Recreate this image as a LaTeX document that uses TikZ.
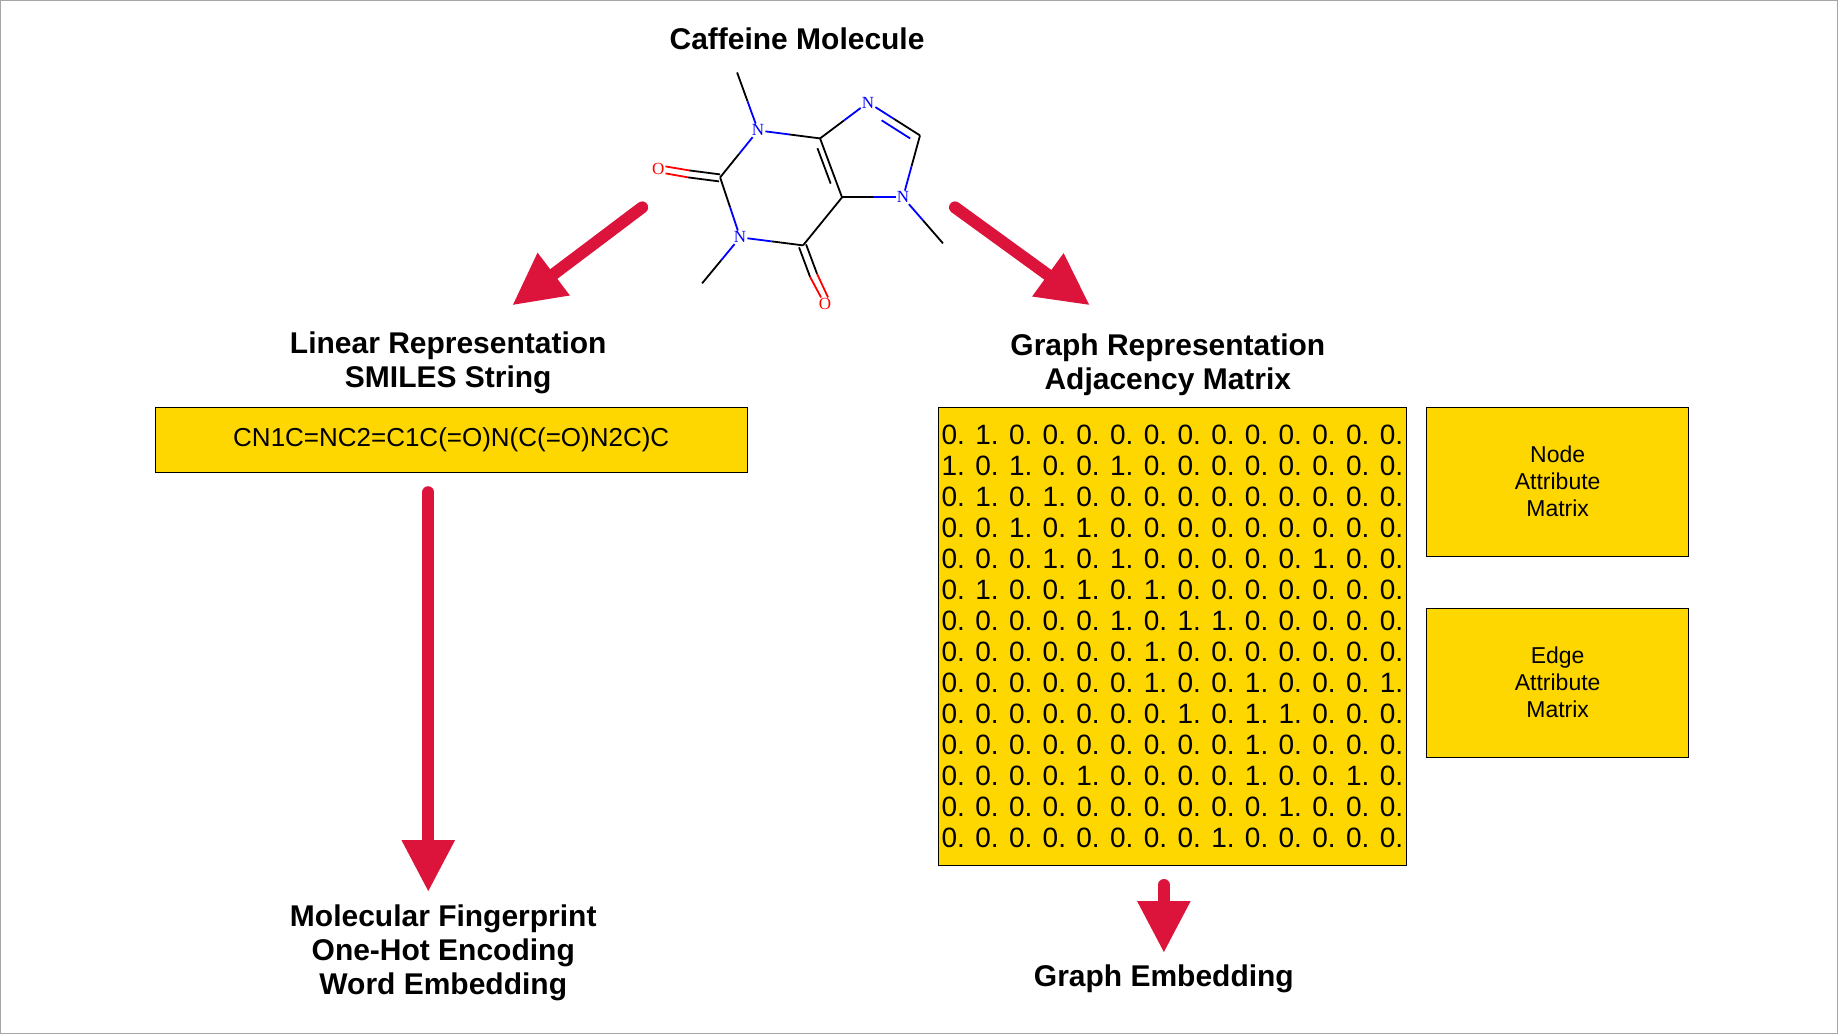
\documentclass[tikz,border=0pt]{standalone}
\usepackage{fontspec}
\setmainfont{Liberation Sans}
\newfontfamily\atomfont{Liberation Serif}
\usetikzlibrary{arrows.meta,calc}
\definecolor{goldbox}{HTML}{FFD700}
\definecolor{crimsonarrow}{HTML}{DC143C}

\tikzset{
  title/.style={font=\fontsize{30}{36}\selectfont\bfseries, align=center},
  box/.style={draw=black, fill=goldbox, line width=0.8pt},
  bigarrow/.style={crimsonarrow, line width=12pt, line cap=round,
    -{Triangle[length=52pt, width=50pt]}},
  bond/.style={line width=1.8pt},
  atom/.style={font=\atomfont\fontsize{17}{17}\selectfont, inner sep=1pt},
}

\begin{document}
\begin{tikzpicture}[x=1pt, y=-1pt]
\draw[gray!70, line width=1pt, use as bounding box] (0,0) rectangle (1838,1034);

% titles
\node[title] (caffeine) at (797,38) {Caffeine Molecule};
\node[title] (linear) at (448,363) {Linear Representation\\[-2pt]SMILES String};
\node[title] (graph) at (1168,364) {Graph Representation\\[-2pt]Adjacency Matrix};
\node[title] (fingerprint) at (443,953) {Molecular Fingerprint\\[-2pt]One-Hot Encoding\\[-2pt]Word Embedding};
\node[title] (embedding) at (1164,979) {Graph Embedding};

% boxes
\node[box, minimum width=592pt, minimum height=65pt, font=\fontsize{26}{30}\selectfont]
  (smiles) at (451,440) {CN1C=NC2=C1C(=O)N(C(=O)N2C)C};
\node[box, minimum width=465pt, minimum height=458pt, align=center,
  font=\fontsize{28}{31}\selectfont] (adj) at (1172.5,636) {%
0. 1. 0. 0. 0. 0. 0. 0. 0. 0. 0. 0. 0. 0.\\
1. 0. 1. 0. 0. 1. 0. 0. 0. 0. 0. 0. 0. 0.\\
0. 1. 0. 1. 0. 0. 0. 0. 0. 0. 0. 0. 0. 0.\\
0. 0. 1. 0. 1. 0. 0. 0. 0. 0. 0. 0. 0. 0.\\
0. 0. 0. 1. 0. 1. 0. 0. 0. 0. 0. 1. 0. 0.\\
0. 1. 0. 0. 1. 0. 1. 0. 0. 0. 0. 0. 0. 0.\\
0. 0. 0. 0. 0. 1. 0. 1. 1. 0. 0. 0. 0. 0.\\
0. 0. 0. 0. 0. 0. 1. 0. 0. 0. 0. 0. 0. 0.\\
0. 0. 0. 0. 0. 0. 1. 0. 0. 1. 0. 0. 0. 1.\\
0. 0. 0. 0. 0. 0. 0. 1. 0. 1. 1. 0. 0. 0.\\
0. 0. 0. 0. 0. 0. 0. 0. 0. 1. 0. 0. 0. 0.\\
0. 0. 0. 0. 1. 0. 0. 0. 0. 1. 0. 0. 1. 0.\\
0. 0. 0. 0. 0. 0. 0. 0. 0. 0. 1. 0. 0. 0.\\
0. 0. 0. 0. 0. 0. 0. 0. 1. 0. 0. 0. 0. 0.};
\node[box, minimum width=262pt, minimum height=149pt, align=center,
  font=\fontsize{23}{27}\selectfont] (nodeattr) at (1558,481.5) {Node\\Attribute\\Matrix};
\node[box, minimum width=262pt, minimum height=149pt, align=center,
  font=\fontsize{23}{27}\selectfont] (edgeattr) at (1558,682.5) {Edge\\Attribute\\Matrix};

% arrows
\coordinate (la) at (642,207); \coordinate (lb) at (512,305);
\coordinate (ra) at (955,207); \coordinate (rb) at (1090,305);
\coordinate (va) at (428,492); \coordinate (vb) at (428,892);
\coordinate (ga) at (1164,885); \coordinate (gb) at (1164,953);
\draw[bigarrow] (la) -- (lb);
\draw[bigarrow] (ra) -- (rb);
\draw[bigarrow] (va) -- (vb);
\draw[bigarrow] (ga) -- (gb);

% molecule
\node[atom, blue] (n1) at (758,130) {N};
\node[atom, blue] (n3) at (740,237) {N};
\node[atom, blue] (n7) at (868,102) {N};
\node[atom, blue] (n9) at (903,197) {N};
\node[atom, red] (o2) at (658,169) {O};
\node[atom, red] (o4) at (825,304) {O};
\coordinate (c2) at (720,177);
\coordinate (c4) at (803,245);
\coordinate (c5) at (842,197);
\coordinate (c6) at (820,138);
\coordinate (c8) at (920,135);
\coordinate (m1) at (737,72);
\coordinate (m3) at (702,283);
\coordinate (m9) at (943,243);
\begin{scope}[bond]
\draw (m1) -- ($(m1)!0.5!(n1)$); \draw[blue] ($(m1)!0.5!(n1)$) -- (n1);
\draw[blue] (n1) -- ($(n1)!0.5!(c2)$); \draw ($(n1)!0.5!(c2)$) -- (c2);
\draw (c2) -- ($(c2)!0.5!(n3)$); \draw[blue] ($(c2)!0.5!(n3)$) -- (n3);
\draw[blue] (n3) -- ($(n3)!0.5!(c4)$); \draw ($(n3)!0.5!(c4)$) -- (c4);
\draw[blue] (n3) -- ($(n3)!0.5!(m3)$); \draw ($(n3)!0.5!(m3)$) -- (m3);
\draw (c4) -- (c5) -- (c6);
\draw ($(c5)!0.2!(c6)+(-7,-2)$) -- ($(c5)!0.8!(c6)+(-7,-2)$);
\draw (c6) -- ($(c6)!0.5!(n1)$); \draw[blue] ($(c6)!0.5!(n1)$) -- (n1);
\draw (c6) -- ($(c6)!0.5!(n7)$); \draw[blue] ($(c6)!0.5!(n7)$) -- (n7);
\draw[blue] (n7) -- ($(n7)!0.5!(c8)$); \draw ($(n7)!0.5!(c8)$) -- (c8);
\draw[blue] ($(n7)!0.3!(c8)+(-2,8)$) -- ($(n7)!0.85!(c8)+(-2,8)$);
\draw (c8) -- ($(c8)!0.5!(n9)$); \draw[blue] ($(c8)!0.5!(n9)$) -- (n9);
\draw[blue] (n9) -- ($(n9)!0.5!(c5)$); \draw ($(n9)!0.5!(c5)$) -- (c5);
\draw[blue] (n9) -- ($(n9)!0.5!(m9)$); \draw ($(n9)!0.5!(m9)$) -- (m9);
\draw ($(c2)+(0,-3)$) -- ($($(c2)!0.5!(o2)$)+(0,-3)$); \draw[red] ($($(c2)!0.5!(o2)$)+(0,-3)$) -- ($(o2.east)+(0,-3)$);
\draw ($(c2)+(-1,4)$) -- ($($(c2)!0.5!(o2)$)+(-1,4)$); \draw[red] ($($(c2)!0.5!(o2)$)+(-1,4)$) -- ($(o2.east)+(0,4)$);
\draw ($(c4)+(-4,2)$) -- ($($(c4)!0.5!(o4)$)+(-4,2)$); \draw[red] ($($(c4)!0.5!(o4)$)+(-4,2)$) -- ($(o4.north)+(-4,0)$);
\draw ($(c4)+(3,-1)$) -- ($($(c4)!0.5!(o4)$)+(3,-1)$); \draw[red] ($($(c4)!0.5!(o4)$)+(3,-1)$) -- ($(o4.north)+(3,0)$);
\end{scope}
\end{tikzpicture}
\end{document}
